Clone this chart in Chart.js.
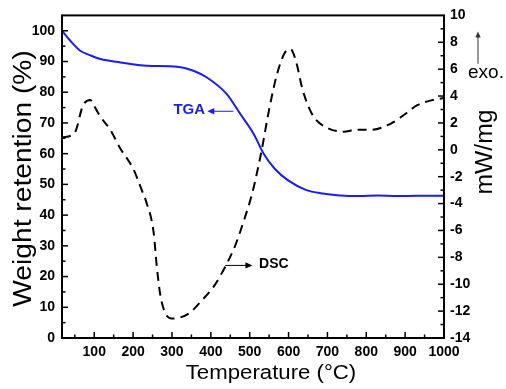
<!DOCTYPE html>
<html>
<head>
<meta charset="utf-8">
<script src="https://cdn.jsdelivr.net/npm/chart.js@4.4.0/dist/chart.umd.min.js"></script>
<style>
  html, body { margin: 0; padding: 0; background: #fff; }
  canvas { display: block; }
</style>
</head>
<body>
<canvas id="chart" width="506" height="389"></canvas>
<script>
// TGA curve (left axis, weight %)
const tgaTemp   = [17, 40, 64, 90, 116, 167, 236, 313, 355, 390, 441, 476, 510, 536, 565, 599, 643, 688, 733, 780, 830, 880, 930, 1000];
const tgaWeight = [100, 96.5, 93.5, 92, 90.8, 89.7, 88.6, 88.3, 87, 84.8, 79.4, 72.9, 66.5, 60, 55, 51.3, 48.3, 47, 46.4, 46.2, 46.4, 46.2, 46.3, 46.3];

// DSC curve (right axis, mW/mg)
const dscTemp = [17, 50, 71, 90, 99, 115, 141, 167, 200, 225, 233, 253, 261, 270, 282, 299, 342, 377, 409, 437, 463, 488, 505, 515, 531, 550, 570, 590, 605, 620, 635, 650, 666, 702, 742, 775, 815, 866, 902, 930, 970, 1000];
const dscHeat = [0.9, 1.3, 3.3, 3.7, 3.3, 2.5, 1.5, 0.1, -1.4, -3.2, -3.8, -6.2, -8.7, -10.8, -12.1, -12.55, -12.2, -11.2, -10.1, -8.7, -7.1, -5.0, -3.4, -2.2, 0, 3.0, 5.6, 7.2, 7.5, 6.5, 4.6, 3.3, 2.4, 1.6, 1.35, 1.5, 1.5, 2.0, 2.7, 3.3, 3.7, 3.85];

// tick labels
const xTicks = [100, 200, 300, 400, 500, 600, 700, 800, 900, 1000];
const leftTicks = [0, 10, 20, 30, 40, 50, 60, 70, 80, 90, 100];
const rightTicks = [-14, -12, -10, -8, -6, -4, -2, 0, 2, 4, 6, 8, 10];

Chart.defaults.font.family = '"Liberation Sans", Arial, sans-serif';
Chart.defaults.color = '#000';

const tickFont = { size: 14, weight: 'bold' };

// frame, inward ticks, axis titles and the little annotations
const framePlugin = {
  id: 'frame',
  afterDraw(chart) {
    const ctx = chart.ctx;
    const a = chart.chartArea;
    const sx = chart.scales.x, sy = chart.scales.y, sy1 = chart.scales.y1;

    function seg(x1, y1, x2, y2) {
      ctx.beginPath();
      ctx.moveTo(x1, y1);
      ctx.lineTo(x2, y2);
      ctx.stroke();
    }
    function arrowHead(x, y, dx, dy, size) {
      // dx,dy = direction the arrow points
      const px = -dy, py = dx;
      ctx.beginPath();
      ctx.moveTo(x, y);
      ctx.lineTo(x - dx * size + px * size * 0.45, y - dy * size + py * size * 0.45);
      ctx.lineTo(x - dx * size - px * size * 0.45, y - dy * size - py * size * 0.45);
      ctx.closePath();
      ctx.fill();
    }
    function vText(txt, x, y, font, stretch) {
      ctx.save();
      ctx.translate(x, y);
      ctx.rotate(-Math.PI / 2);
      ctx.scale(stretch, 1);
      ctx.font = font;
      ctx.textAlign = 'center';
      ctx.textBaseline = 'alphabetic';
      ctx.fillText(txt, 0, 0);
      ctx.restore();
    }

    ctx.save();
    ctx.strokeStyle = '#000';
    ctx.fillStyle = '#000';
    ctx.lineWidth = 2;
    ctx.strokeRect(a.left, a.top, a.right - a.left, a.bottom - a.top);

    ctx.lineWidth = 1.5;
    // x ticks (major every 100, minor every 50)
    for (let v = 50; v <= 1000; v += 50) {
      const px = sx.getPixelForValue(v);
      if (px <= a.left + 2) continue;
      const len = v % 100 === 0 ? 6 : 3.5;
      seg(px, a.bottom, px, a.bottom - len);
    }
    // left ticks
    for (let v = 0; v <= 105; v += 5) {
      const py = sy.getPixelForValue(v);
      if (py <= a.top + 2 || py >= a.bottom - 1) continue;
      const len = v % 10 === 0 ? 6 : 3.5;
      seg(a.left, py, a.left + len, py);
    }
    // right ticks
    for (let v = -13; v <= 9; v += 1) {
      const py = sy1.getPixelForValue(v);
      const len = v % 2 === 0 ? 6 : 3.5;
      seg(a.right, py, a.right - len, py);
    }

    // axis titles
    ctx.font = '20px "Liberation Sans", Arial, sans-serif';
    ctx.save();
    ctx.translate(271, 379);
    ctx.scale(1.11, 1);
    ctx.textAlign = 'center';
    ctx.textBaseline = 'alphabetic';
    ctx.fillText('Temperature (°C)', 0, 0);
    ctx.restore();
    vText('Weight retention (%)', 31, 178.5, '25px "Liberation Sans", Arial, sans-serif', 1.128);
    vText('mW/mg', 492, 152, '23px "Liberation Sans", Arial, sans-serif', 1.07);

    // TGA label with arrow
    const tgaY = sy.getPixelForValue(73.8);
    const tail = sx.getPixelForValue(458), head = sx.getPixelForValue(391);
    ctx.strokeStyle = '#1a1aff';
    ctx.fillStyle = '#1a1aff';
    ctx.lineWidth = 1;
    seg(tail, tgaY, head + 4, tgaY);
    arrowHead(head, tgaY, -1, 0, 7);
    ctx.font = 'bold 15px "Liberation Sans", Arial, sans-serif';
    ctx.textAlign = 'center';
    ctx.textBaseline = 'middle';
    ctx.fillText('TGA', sx.getPixelForValue(344.5), sy.getPixelForValue(74.3));

    // DSC label with arrow
    ctx.strokeStyle = '#000';
    ctx.fillStyle = '#000';
    const dscY = sy1.getPixelForValue(-8.6);
    const dTail = sx.getPixelForValue(437), dHead = sx.getPixelForValue(507);
    seg(dTail, dscY, dHead - 4, dscY);
    arrowHead(dHead, dscY, 1, 0, 7);
    ctx.font = 'bold 14px "Liberation Sans", Arial, sans-serif';
    ctx.textAlign = 'left';
    ctx.fillText('DSC', sx.getPixelForValue(524), sy1.getPixelForValue(-8.5));

    // exo. marker
    const ex = a.right + 34;
    const eTop = sy1.getPixelForValue(8.8), eBot = sy1.getPixelForValue(6.4);
    ctx.strokeStyle = '#333';
    ctx.fillStyle = '#333';
    seg(ex, eBot, ex, eTop + 4);
    arrowHead(ex, eTop, 0, -1, 6);
    ctx.fillStyle = '#000';
    ctx.font = '19px "Liberation Sans", Arial, sans-serif';
    ctx.textAlign = 'left';
    ctx.textBaseline = 'alphabetic';
    ctx.fillText('exo.', a.right + 24, sy1.getPixelForValue(5.33));

    ctx.restore();
  }
};

const ctx = document.getElementById('chart').getContext('2d');
new Chart(ctx, {
  type: 'line',
  data: {
    datasets: [
      {
        label: 'TGA',
        data: tgaTemp.map((t, i) => ({ x: t, y: tgaWeight[i] })),
        yAxisID: 'y',
        borderColor: '#1a1aff',
        borderWidth: 2,
        pointRadius: 0,
        cubicInterpolationMode: 'monotone',
        fill: false
      },
      {
        label: 'DSC',
        data: dscTemp.map((t, i) => ({ x: t, y: dscHeat[i] })),
        yAxisID: 'y1',
        borderColor: '#000',
        borderWidth: 2,
        borderDash: [9, 6],
        pointRadius: 0,
        cubicInterpolationMode: 'monotone',
        fill: false
      }
    ]
  },
  options: {
    responsive: false,
    animation: false,
    layout: { padding: { top: 14, left: 0, right: 0, bottom: 0 } },
    plugins: {
      legend: { display: false },
      tooltip: { enabled: false }
    },
    scales: {
      x: {
        type: 'linear',
        min: 17,
        max: 1000,
        grid: { display: false, drawTicks: false },
        border: { display: false },
        afterBuildTicks: s => { s.ticks = xTicks.map(v => ({ value: v })); },
        afterFit: s => { s.height = 51; },
        ticks: { font: tickFont, padding: 6, maxRotation: 0, autoSkip: false, callback: v => String(v) }
      },
      y: {
        position: 'left',
        min: 0,
        max: 105,
        grid: { display: false, drawTicks: false },
        border: { display: false },
        afterBuildTicks: s => { s.ticks = leftTicks.map(v => ({ value: v })); },
        afterFit: s => { s.width = 62; },
        ticks: { font: tickFont, padding: 7, callback: v => String(v) }
      },
      y1: {
        position: 'right',
        min: -14,
        max: 10,
        grid: { display: false, drawTicks: false },
        border: { display: false },
        afterBuildTicks: s => { s.ticks = rightTicks.map(v => ({ value: v })); },
        afterFit: s => { s.width = 62; },
        ticks: { font: tickFont, padding: 6, callback: v => String(v) }
      }
    }
  },
  plugins: [framePlugin]
});
</script>
</body>
</html>
